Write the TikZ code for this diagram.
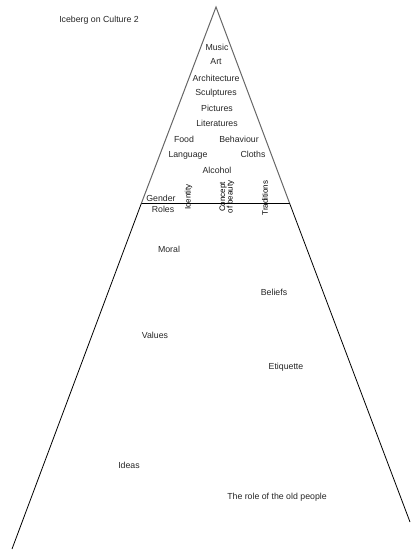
\documentclass[tikz,border=0pt]{standalone}
\usepackage{fontspec}
\setmainfont{Liberation Sans}
\begin{document}
\begin{tikzpicture}[x=1bp,y=-1bp,
  lbl/.style={inner sep=0pt,font=\fontsize{8.8}{9}\selectfont,text=black!85},
  vlbl/.style={lbl,rotate=90,align=center,font=\fontsize{8}{7.5}\selectfont,text=black},
  tip/.style={draw=black!60,line width=1bp},
  base/.style={draw=black,line width=0.8bp}]
\useasboundingbox (0,0) rectangle (410,552);
\coordinate (apex) at (216,7);
\coordinate (wl) at (141.5,203);
\coordinate (wr) at (289.5,203);
\coordinate (bl) at (12,549);
\coordinate (br) at (410,522);
\draw[base] (wl) -- (bl);
\draw[base] (wr) -- (br);
\draw[base] (wl) -- (wr);
\draw[tip] (wl) -- (apex) -- (wr);
\node[lbl] (title) at (99,20) {Iceberg on Culture 2};
\node[lbl] (music) at (217,47) {Music};
\node[lbl] (art) at (216,62) {Art};
\node[lbl] (arch) at (216,78) {Architecture};
\node[lbl] (sculp) at (216,93) {Sculptures};
\node[lbl] (pict) at (217,108) {Pictures};
\node[lbl] (lit) at (217,123) {Literatures};
\node[lbl] (food) at (184,139) {Food};
\node[lbl] (beh) at (239,139) {Behaviour};
\node[lbl] (lang) at (188,155) {Language};
\node[lbl] (cloths) at (253,154) {Cloths};
\node[lbl] (alc) at (217,170) {Alcohol};
\node[lbl] (gender) at (161,198) {Gender};
\node[lbl] (roles) at (163,209) {Roles};
\node[vlbl] (ident) at (188.5,197) {Identity};
\node[vlbl] (beauty) at (227,197) {Concept\\of beauty};
\node[vlbl] (trad) at (265,198) {Traditions};
\node[lbl] (moral) at (169,249) {Moral};
\node[lbl] (beliefs) at (274,292) {Beliefs};
\node[lbl] (values) at (155,335) {Values};
\node[lbl] (etiq) at (286,367) {Etiquette};
\node[lbl] (ideas) at (129,465) {Ideas};
\node[lbl] (old) at (277,497) {The role of the old people};
\end{tikzpicture}
\end{document}
